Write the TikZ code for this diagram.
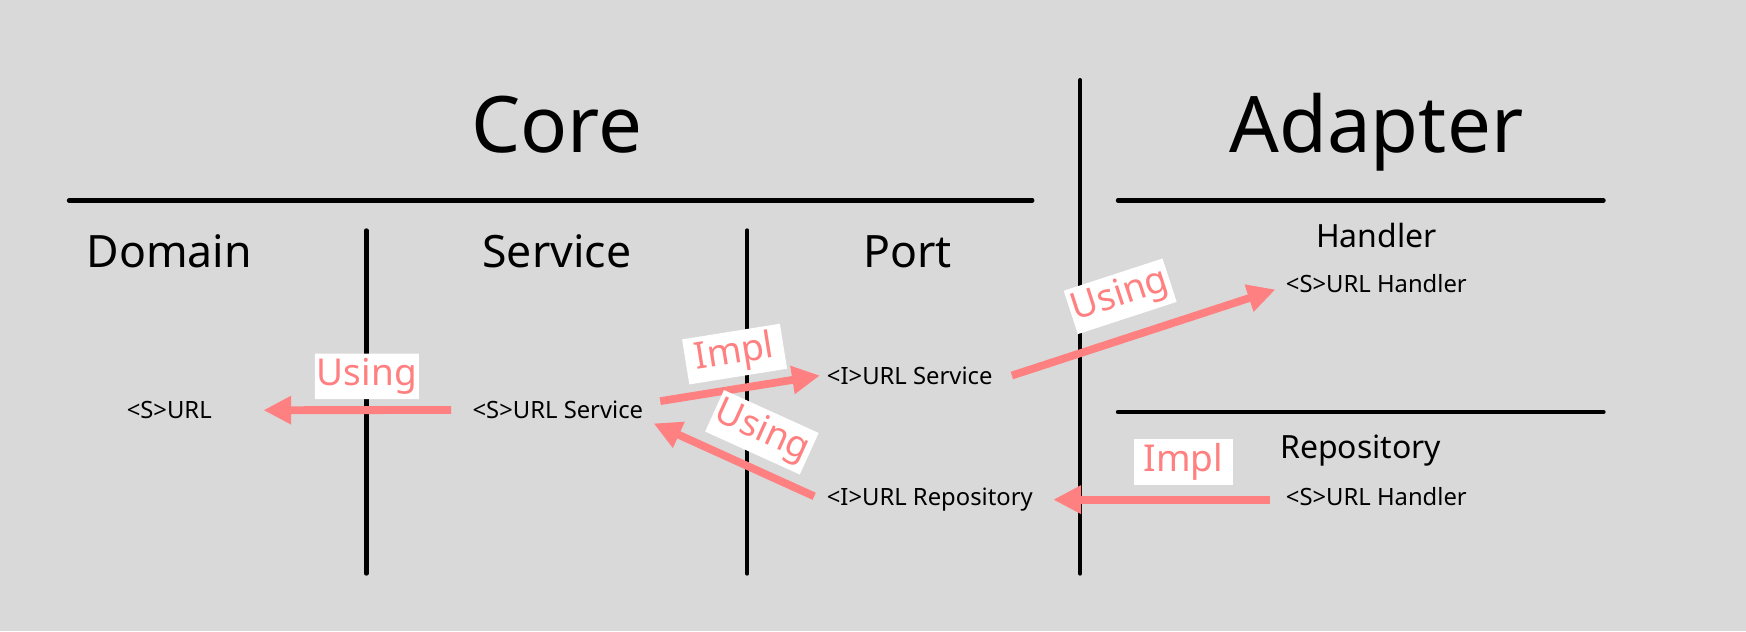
\documentclass[tikz,border=0pt]{standalone}
\usepackage{fontspec}
\setmainfont{Noto Sans}
\usetikzlibrary{arrows.meta}
\definecolor{bg}{HTML}{D9D9D9}
\definecolor{rosa}{HTML}{FF8080}
\begin{document}
\begin{tikzpicture}[x=.55676pt,y=.55676pt,
 bl/.style={line width=2.2pt,line cap=round},
 arr/.style={rosa,line width=3.9pt,-{Triangle[length=13.9pt,width=13.4pt]}},
 lbl/.style={fill=white,text=rosa,font=\fontsize{18.5}{20}\selectfont,inner xsep=1pt,inner ysep=2pt,
  minimum width=49.5pt,minimum height=22.8pt,sloped},
 head/.style={anchor=base,font=\fontsize{39}{44}\selectfont},
 sub/.style={anchor=base,font=\fontsize{22.3}{26}\selectfont},
 side/.style={anchor=base,font=\fontsize{16}{19}\selectfont},
 txt/.style={anchor=base,font=\fontsize{11.9}{14}\selectfont}]
\fill[bg] (0,0) rectangle (1568,-567);
\useasboundingbox (0,0) rectangle (1568,-567);
% frame lines
\foreach \a/\b in {62/927, 1004/1440} \draw[bl] (\a,-180) -- (\b,-180);
\draw[bl] (1004,-370) -- (1440,-370);
\draw[bl] (970,-72) -- (970,-515);
\foreach \a in {329, 671} \draw[bl] (\a,-207) -- (\a,-515);
% headings
\path (500,-137) node[head] (core) {Core} (1236,-137) node[head] (adapter) {Adapter}
 (152,-240) node[sub] (domain) {Domain} (500,-240) node[sub] (service) {Service} (815,-240) node[sub] (port) {Port}
 (1236,-222) node[side] (handler) {Handler} (1222,-412) node[side] (repository) {Repository};
% classes
\path (152,-376) node[txt] (url) {<S>URL} (501,-376) node[txt] (urlsvc) {<S>URL Service}
 (817,-345) node[txt] (iurlsvc) {<I>URL Service} (835,-454) node[txt] (iurlrepo) {<I>URL Repository}
 (1236,-263) node[txt] (shandler) {<S>URL Handler} (1236,-454) node[txt] (srepo) {<S>URL Handler};
% relations
\draw[arr,shorten <=7.2pt,shorten >=22.3pt] (urlsvc.west) -- node[lbl,pos=.4,above=3.5pt] {Using} (url.east);
\draw[arr] ([shift={(9,8)}]urlsvc.east) -- node[lbl,pos=.5,above=4pt] {Impl} (iurlsvc.west);
\draw[arr] ([shift={(-5,3)}]iurlrepo.west) -- node[lbl,pos=.42,above=5pt] {Using} ([shift={(3,-12)}]urlsvc.east);
\draw[arr] ([shift={(11,0)}]iurlsvc.east) -- node[lbl,pos=.46,above=7.5pt] {Using} ([shift={(-3,-5)}]shandler.west);
\draw[arr,shorten <=4.5pt,shorten >=6.7pt] (srepo.west |- iurlrepo.east) -- node[lbl,pos=.4,above=5.5pt] {Impl} (iurlrepo.east);
\end{tikzpicture}
\end{document}
